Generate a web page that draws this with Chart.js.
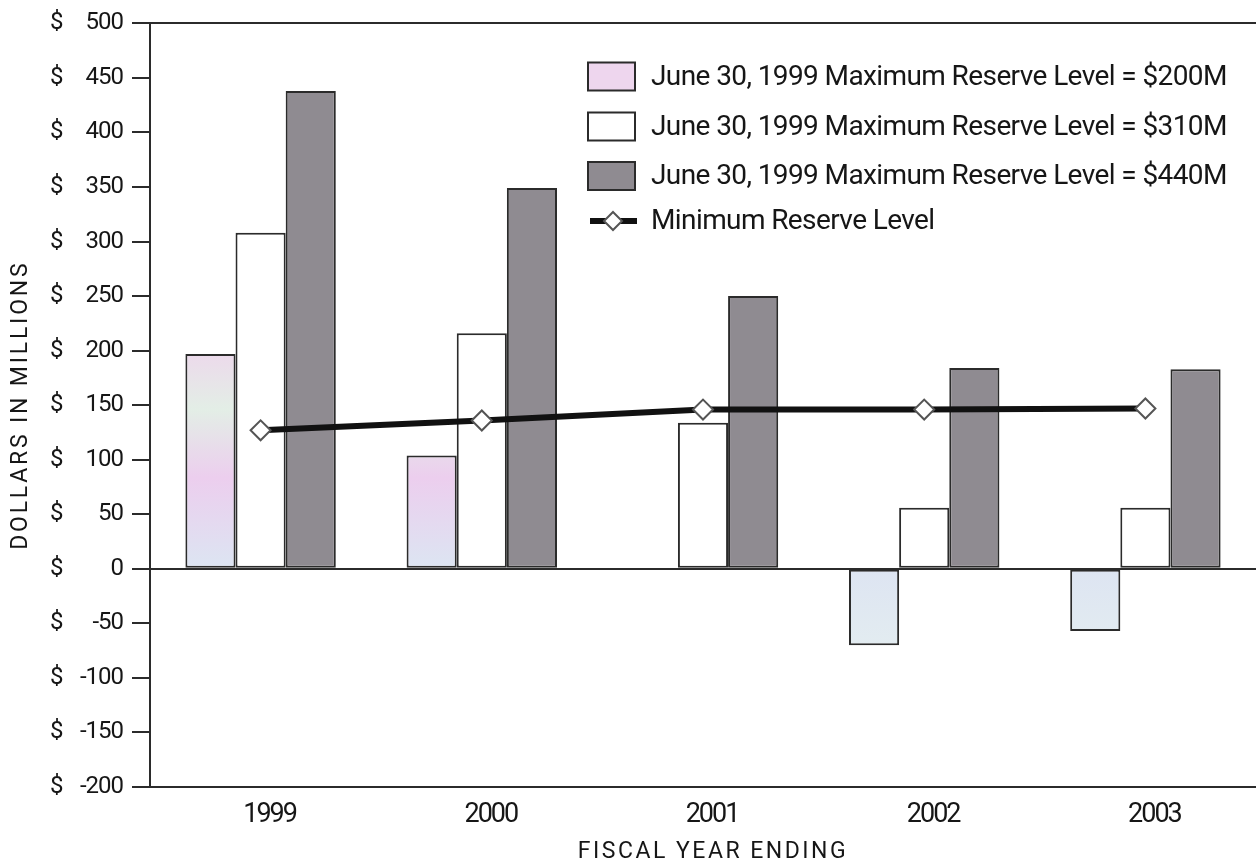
<!DOCTYPE html>
<html>
<head>
<meta charset="utf-8">
<script src="https://cdn.jsdelivr.net/npm/chart.js@4.4.1/dist/chart.umd.min.js"></script>
<style>
  html, body { margin: 0; padding: 0; background: #ffffff; overflow: hidden; }
  canvas { display: block; }
</style>
</head>
<body>
<canvas id="reserveChart" width="1256" height="866"></canvas>
<script>
// Fiscal years on the category axis
const years = ['1999', '2000', '2001', '2002', '2003'];

// Projected reserves (dollars in millions) under each June 30, 1999 maximum level
const reserveMax200 = [197, 104, null, -70, -57];
const reserveMax310 = [308, 216, 134, 56, 56];
const reserveMax440 = [438, 349, 250, 184, 183];

// Minimum reserve level line
const minimumReserve = [127, 136, 146, 146, 147];

// Series names shown in the key
const seriesLabels = [
  'June 30, 1999 Maximum Reserve Level = $200M',
  'June 30, 1999 Maximum Reserve Level = $310M',
  'June 30, 1999 Maximum Reserve Level = $440M',
  'Minimum Reserve Level'
];

// Value axis range
const yMin = -200;
const yMax = 500;
const yStep = 50;

const textFont = 'Roboto, "Liberation Sans", Arial, sans-serif';
const inkColor = '#2b2b2b';
const textColor = '#161616';
const pinkSwatch = '#eed6ee';
const grayFill = '#8f8b91';

// Soft pastel fill for the $200M bars
function pastelFill(context) {
  const chart = context.chart;
  const area = chart.chartArea;
  if (!area) return pinkSwatch;
  const g = chart.ctx.createLinearGradient(0, area.top + 300, 0, area.bottom - 120);
  g.addColorStop(0.0, '#f1cfee');
  g.addColorStop(0.25, '#e3eee6');
  g.addColorStop(0.45, '#ecceee');
  g.addColorStop(0.7, '#dde4f2');
  g.addColorStop(1.0, '#e4eef0');
  return g;
}

// Wraps a scale drawing method so its text uses the given spacing / shift
function withSpacing(scale, method, spacing, shiftX) {
  const flag = '_wrapped_' + method;
  if (scale[flag]) return;
  const orig = scale[method];
  scale[method] = function (...args) {
    const c = this.ctx;
    c.save();
    c.letterSpacing = spacing;
    if (shiftX) c.translate(shiftX, 0);
    orig.apply(this, args);
    c.restore();
  };
  scale[flag] = true;
}

// Draws the "$" column beside the value ticks and the key in the upper right
const decorations = {
  id: 'decorations',
  afterLayout(chart) {
    const ys = chart.scales.y;
    const xs = chart.scales.x;
    withSpacing(ys, 'drawLabels', '-1px', 0);
    withSpacing(xs, 'drawLabels', '-2px', 0);
    withSpacing(ys, 'drawTitle', '2.8px', 0);
    withSpacing(xs, 'drawTitle', '2.5px', 10);
  },
  afterDraw(chart) {
    const ctx = chart.ctx;
    const ys = chart.scales.y;

    // "$" prefix column
    ctx.save();
    ctx.font = '24px ' + textFont;
    ctx.fillStyle = textColor;
    ctx.textAlign = 'left';
    ctx.textBaseline = 'middle';
    ys.ticks.forEach(t => {
      ctx.fillText('$', 50, ys.getPixelForValue(t.value));
    });
    ctx.restore();

    // Key
    const boxX = 588, boxW = 47, boxH = 28, textX = 651;
    const rowY = [76.5, 126.5, 176, 221];
    const swatches = [pinkSwatch, '#ffffff', grayFill];
    ctx.save();
    ctx.font = '28px ' + textFont;
    ctx.letterSpacing = '-0.6px';
    ctx.textBaseline = 'middle';
    ctx.textAlign = 'left';
    chart.data.datasets.forEach((ds, i) => {
      const cy = rowY[i];
      if (i < 3) {
        ctx.fillStyle = swatches[i];
        ctx.fillRect(boxX, cy - boxH / 2, boxW, boxH);
        ctx.lineWidth = 2;
        ctx.strokeStyle = inkColor;
        ctx.strokeRect(boxX, cy - boxH / 2, boxW, boxH);
      } else {
        ctx.strokeStyle = '#111111';
        ctx.lineWidth = 6;
        ctx.beginPath();
        ctx.moveTo(boxX + 2, cy);
        ctx.lineTo(boxX + boxW + 2, cy);
        ctx.stroke();
        const dx = boxX + 25, r = 9;
        ctx.beginPath();
        ctx.moveTo(dx, cy - r);
        ctx.lineTo(dx + r, cy);
        ctx.lineTo(dx, cy + r);
        ctx.lineTo(dx - r, cy);
        ctx.closePath();
        ctx.fillStyle = '#ffffff';
        ctx.fill();
        ctx.lineWidth = 2;
        ctx.strokeStyle = '#555555';
        ctx.stroke();
      }
      ctx.fillStyle = textColor;
      ctx.fillText(ds.label, textX, cy + 1);
    });
    ctx.restore();
  }
};

const barCommon = {
  borderColor: inkColor,
  borderWidth: 2,
  borderSkipped: false,
  categoryPercentage: 0.68,
  barPercentage: 1.0,
  order: 1
};

new Chart(document.getElementById('reserveChart'), {
  type: 'bar',
  data: {
    labels: years,
    datasets: [
      Object.assign({ label: seriesLabels[0], data: reserveMax200, backgroundColor: pastelFill }, barCommon),
      Object.assign({ label: seriesLabels[1], data: reserveMax310, backgroundColor: '#ffffff' }, barCommon),
      Object.assign({ label: seriesLabels[2], data: reserveMax440, backgroundColor: grayFill }, barCommon),
      {
        type: 'line',
        label: seriesLabels[3],
        data: minimumReserve,
        borderColor: '#111111',
        borderWidth: 6,
        tension: 0,
        pointStyle: 'rectRot',
        pointRadius: 10,
        pointBackgroundColor: '#ffffff',
        pointBorderColor: '#555555',
        pointBorderWidth: 2,
        order: 0
      }
    ]
  },
  options: {
    responsive: false,
    animation: false,
    devicePixelRatio: 1,
    layout: { autoPadding: false, padding: { top: 21, right: 0, bottom: 0, left: 0 } },
    plugins: {
      legend: { display: false },
      tooltip: { enabled: false }
    },
    scales: {
      x: {
        grid: { display: false, drawTicks: false },
        border: { display: true, color: inkColor, width: 2 },
        ticks: {
          color: textColor,
          font: { family: textFont, size: 27 },
          padding: 12,
          labelOffset: 9
        },
        title: {
          display: true,
          text: 'FISCAL YEAR ENDING',
          color: textColor,
          font: { family: textFont, size: 23 },
          padding: { top: 0, bottom: 0 }
        },
        afterFit(scale) {
          scale.height = 79;
          scale.paddingLeft = 0;
          scale.paddingRight = 0;
        }
      },
      y: {
        min: yMin,
        max: yMax,
        grid: {
          color: c => (c.tick && (c.tick.value === 0 || c.tick.value === yMax)) ? inkColor : 'rgba(0,0,0,0)',
          lineWidth: 2,
          tickColor: inkColor,
          tickLength: 18,
          tickWidth: 2
        },
        border: { display: true, color: inkColor, width: 2 },
        ticks: {
          stepSize: yStep,
          color: textColor,
          font: { family: textFont, size: 24 },
          padding: 9,
          callback: v => String(v)
        },
        title: {
          display: true,
          text: 'DOLLARS IN MILLIONS',
          color: textColor,
          font: { family: textFont, size: 23 },
          padding: { top: 7, bottom: 0 }
        },
        afterFit(scale) { scale.width = 150; }
      }
    }
  },
  plugins: [decorations]
});
</script>
</body>
</html>
